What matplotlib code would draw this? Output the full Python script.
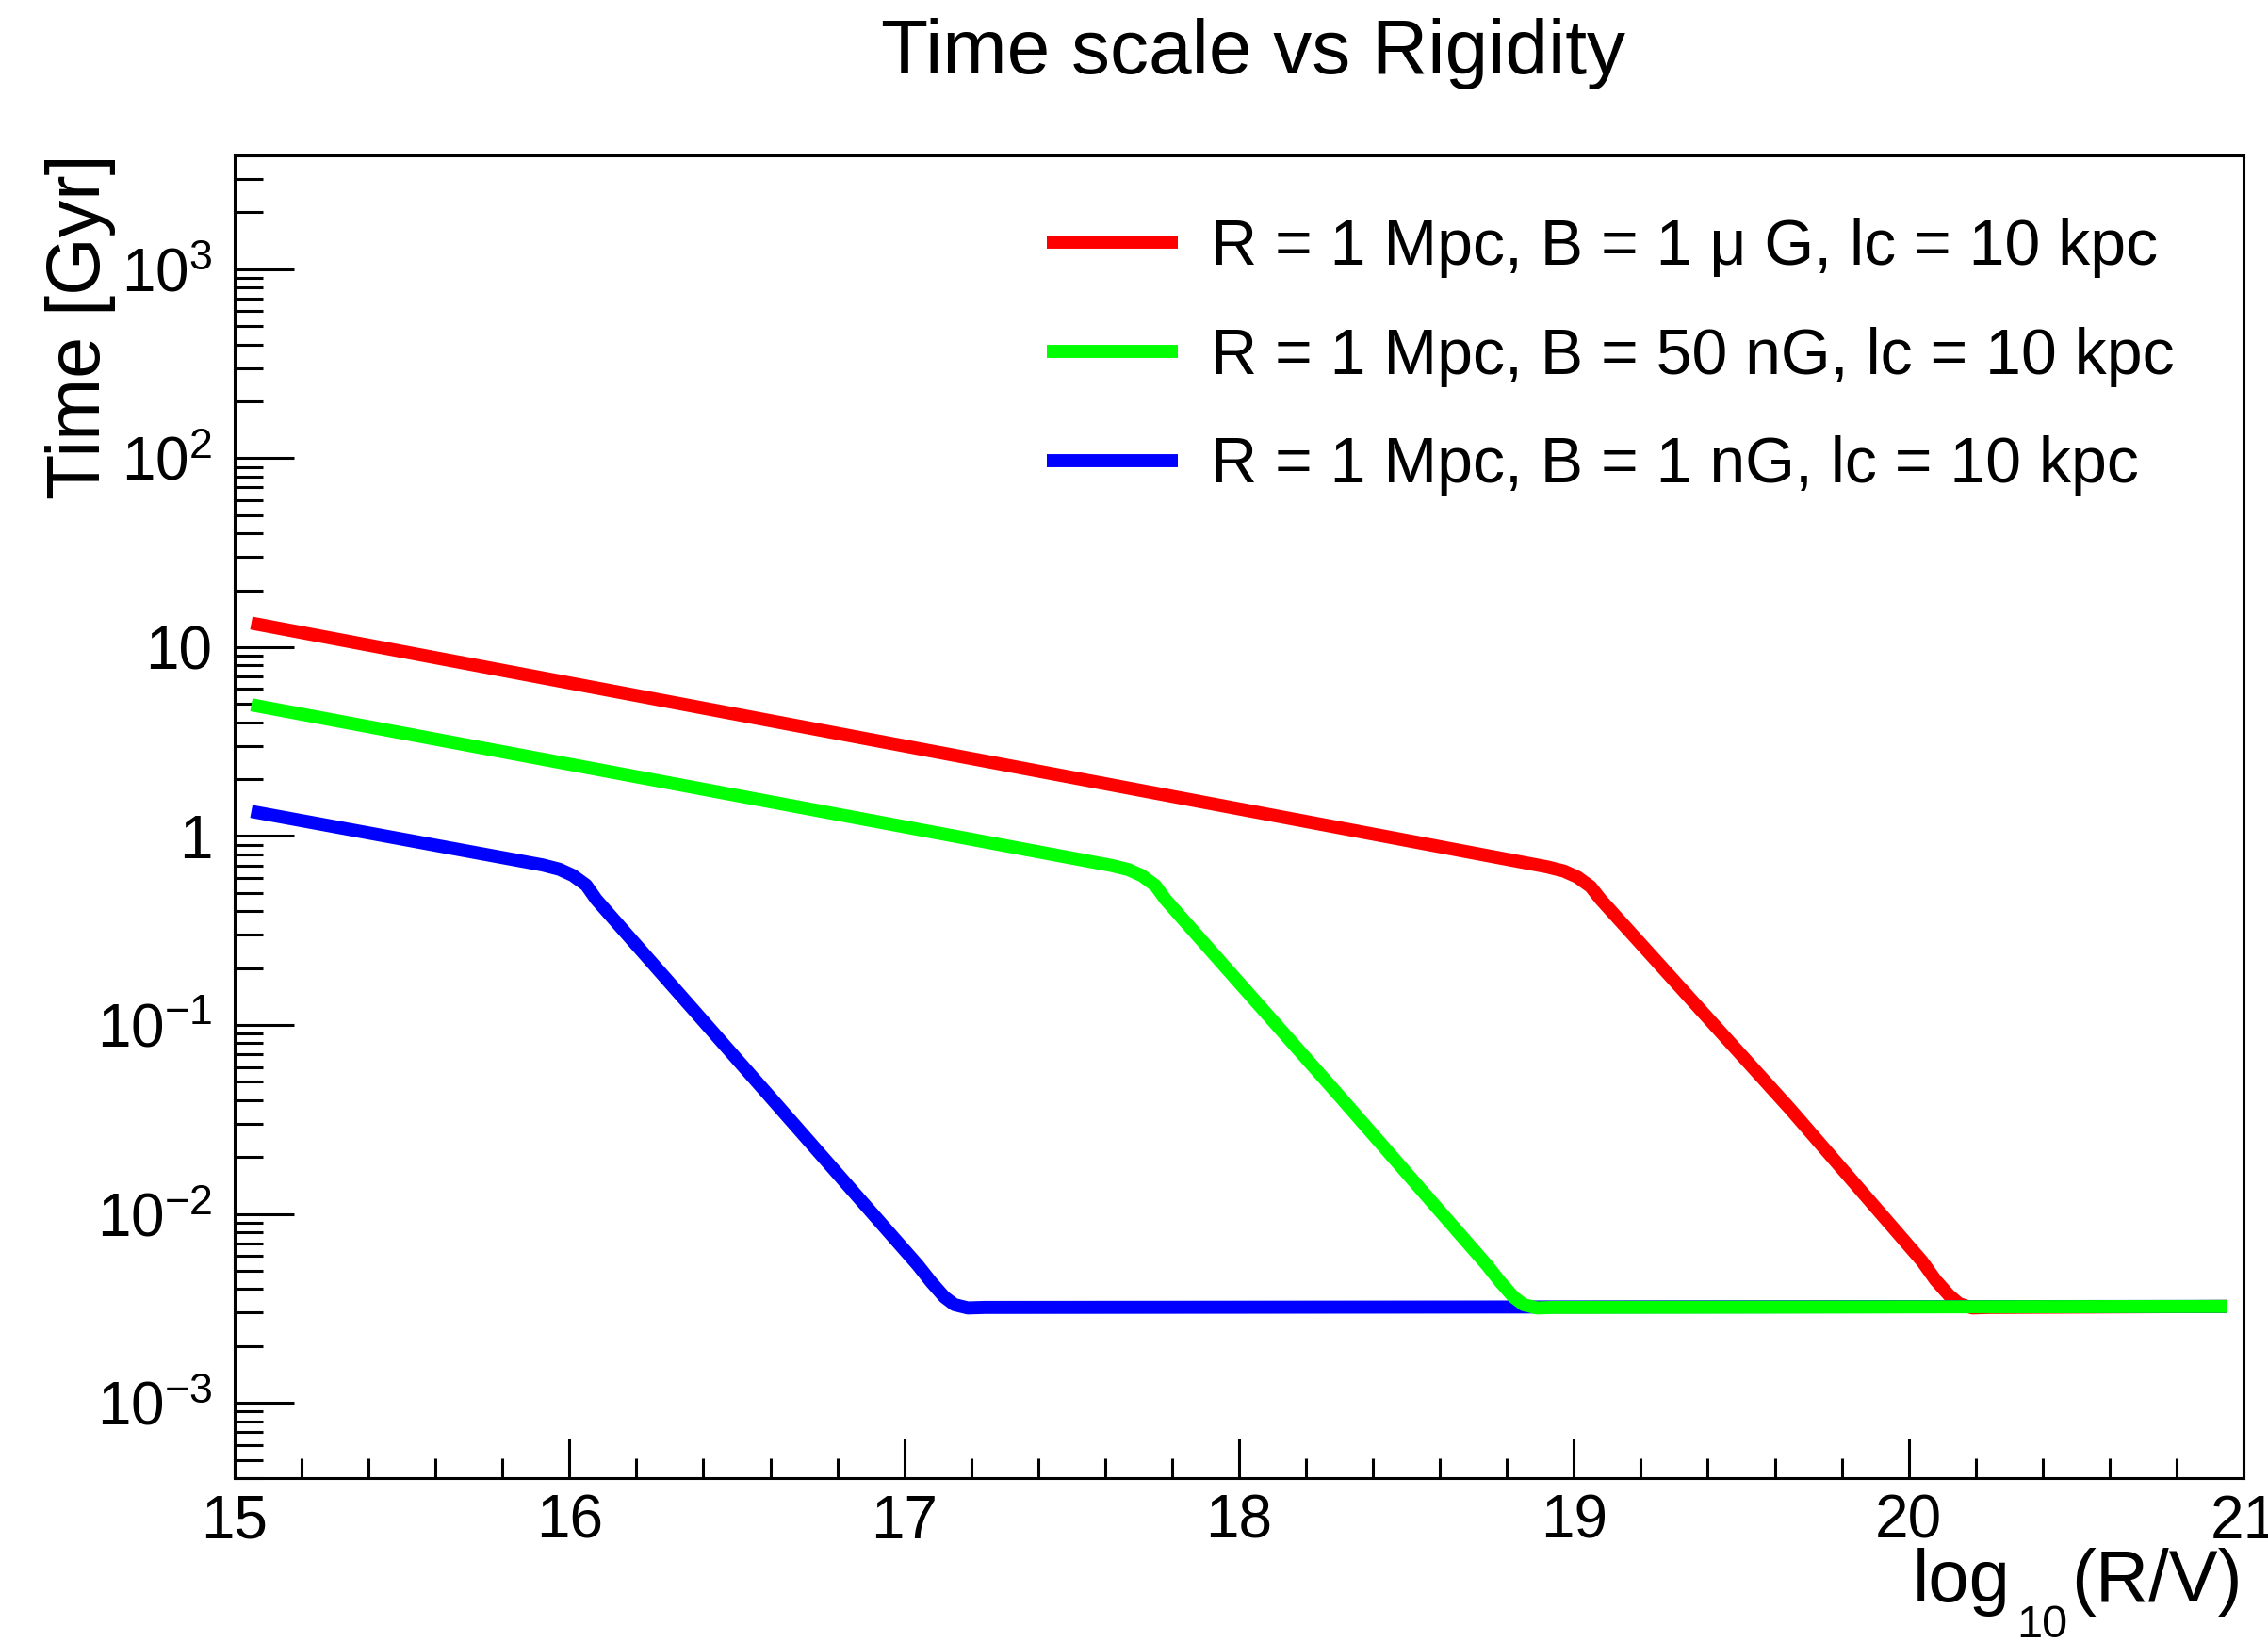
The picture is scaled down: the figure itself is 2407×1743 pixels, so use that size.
import matplotlib
matplotlib.use("Agg")
import matplotlib.pyplot as plt
from matplotlib.ticker import FixedLocator, MultipleLocator, LogLocator, NullFormatter

# log10(R/V) vs propagation time [Gyr] over 1 Mpc, lc = 10 kpc
red_x = [15.05, 18.92, 18.97, 19.01, 19.05, 19.08, 19.645, 20.04, 20.08, 20.12, 20.15, 20.19, 20.24, 20.95]
red_y = [13.4, 0.687, 0.653, 0.607, 0.540, 0.462, 0.0361, 0.00562, 0.00447, 0.00372, 0.00335, 0.00318, 0.00320, 0.00324]

green_x = [15.05, 17.62, 17.67, 17.71, 17.75, 17.78, 18.30, 18.74, 18.78, 18.82, 18.85, 18.89, 18.94, 20.95]
green_y = [4.95, 0.698, 0.664, 0.617, 0.547, 0.462, 0.0420, 0.00537, 0.00437, 0.00363, 0.00331, 0.00318, 0.00320, 0.00324]

blue_x = [15.05, 15.92, 15.97, 16.01, 16.05, 16.08, 16.60, 17.04, 17.08, 17.12, 17.15, 17.19, 17.24, 20.95]
blue_y = [1.35, 0.703, 0.667, 0.619, 0.550, 0.462, 0.0415, 0.00537, 0.00437, 0.00363, 0.00331, 0.00318, 0.00320, 0.00324]

labels = ["R = 1 Mpc, B = 1 \u03bc G, lc = 10 kpc",
          "R = 1 Mpc, B = 50 nG, lc = 10 kpc",
          "R = 1 Mpc, B = 1 nG, lc = 10 kpc"]

x_ticks = [15, 16, 17, 18, 19, 20, 21]
y_ticks = [1e-3, 1e-2, 1e-1, 1, 10, 1e2, 1e3]
y_tick_labels = [r"$10^{-3}$", r"$10^{-2}$", r"$10^{-1}$", "1", "10", r"$10^{2}$", r"$10^{3}$"]

plt.rcParams["font.family"] = ["Liberation Sans", "DejaVu Sans"]
plt.rcParams["mathtext.fontset"] = "custom"
plt.rcParams["mathtext.rm"] = "Liberation Sans"
plt.rcParams["mathtext.it"] = "Liberation Sans:italic"
plt.rcParams["mathtext.default"] = "regular"

W, H = 2407, 1743
fig = plt.figure(figsize=(W / 100, H / 100), dpi=100)
ax = fig.add_axes([249 / W, 1 - 1569 / H, 2132 / W, 1404 / H])

lw = 10
l_red, = ax.plot(red_x, red_y, color="#ff0000", lw=lw, solid_capstyle="butt",
                 solid_joinstyle="round", zorder=2)
l_blue, = ax.plot(blue_x, blue_y, color="#0000ff", lw=lw, solid_capstyle="butt",
                  solid_joinstyle="round", zorder=3)
l_green, = ax.plot(green_x, green_y, color="#00ff00", lw=lw, solid_capstyle="butt",
                   solid_joinstyle="round", zorder=4)

ax.set_yscale("log")
ax.set_xlim(15, 21)
ax.set_ylim(4.0e-4, 4.0e3)

ax.xaxis.set_major_locator(FixedLocator(x_ticks))
ax.xaxis.set_minor_locator(MultipleLocator(0.2))
ax.set_xticklabels([str(t) for t in x_ticks])

ax.yaxis.set_major_locator(FixedLocator(y_ticks))
ax.yaxis.set_minor_locator(LogLocator(base=10, subs=range(2, 10), numticks=20))
ax.yaxis.set_minor_formatter(NullFormatter())
ax.set_yticklabels(y_tick_labels)

ax.tick_params(axis="y", which="major", direction="in", length=45, width=2.2,
               labelsize=46, pad=17, right=False)
ax.tick_params(axis="y", which="minor", direction="in", length=21.6, width=2.2, right=False)
ax.tick_params(axis="x", which="major", direction="in", length=30, width=2.2,
               labelsize=46, pad=12, top=False)
ax.tick_params(axis="x", which="minor", direction="in", length=15, width=2.2, top=False)
for s in ax.spines.values():
    s.set_linewidth(2.2)

# titles placed like the ROOT canvas
fig.text(1330 / W, 1 - 78 / H, "Time scale vs Rigidity", ha="center", va="baseline", fontsize=59)
fig.text(48 / W, 1 - 163 / H, "Time [Gyr]", rotation=90, ha="left", va="top", fontsize=57)

# x title built in pieces so the subscript sits low, ROOT style
fig.text(2380 / W, 1 - 1700 / H, "(R/V)", ha="right", va="baseline", fontsize=56)
fig.text(2194 / W, 1 - 1738 / H, "10", ha="right", va="baseline", fontsize=35)
fig.text(2134 / W, 1 - 1700 / H, "log", ha="right", va="baseline", fontsize=56)

ax.legend([l_red, l_green, l_blue], labels, loc="upper left",
          bbox_to_anchor=(1111 / W, 1 - 231 / H), bbox_transform=fig.transFigure,
          frameon=False, fontsize=49, handlelength=2.04, handletextpad=0.52,
          labelspacing=0.76, borderpad=0, borderaxespad=0)

fig.savefig("out.png", dpi=100)
